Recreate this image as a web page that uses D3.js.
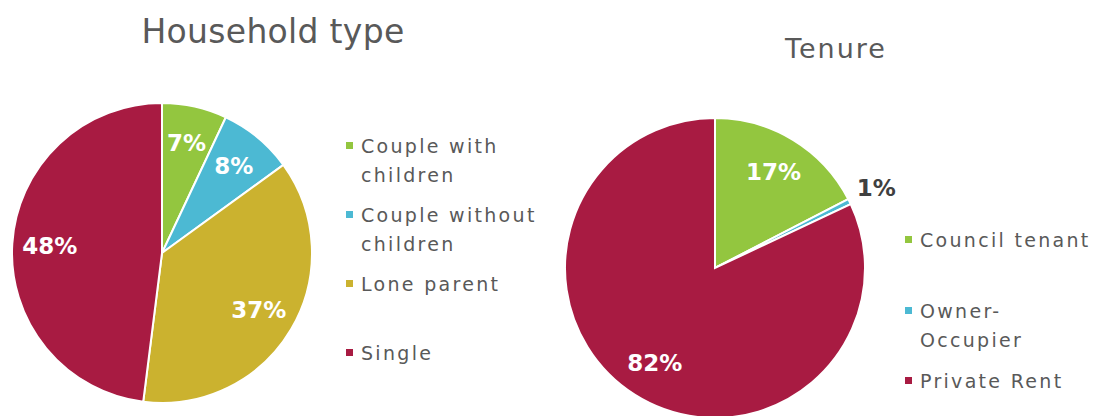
<!DOCTYPE html>
<html>
<head>
<meta charset="utf-8">
<script src="https://cdn.jsdelivr.net/npm/d3@7"></script>
<style>
  body { margin: 0; background: #fff; }
  svg text { font-family: "DejaVu Sans", sans-serif; }
</style>
</head>
<body>
<div id="chart"></div>
<script>
// data
const householdTypes = ["Couple with children", "Couple without children", "Lone parent", "Single"];
const householdShares = [7, 8, 37, 48];
const tenureTypes = ["Council tenant", "Owner-Occupier", "Private Rent"];
const tenureShares = [17.4, 0.6, 82.0];

const width = 1102, height = 416;
const palette = ["#93c63f", "#4cb9d3", "#cbb22f", "#a81b42"];
const tenureColors = [palette[0], palette[1], palette[3]];

const svg = d3.select("#chart")
  .append("svg")
  .attr("width", width)
  .attr("height", height);

const pie = d3.pie().sort(null).value(d => d.value);

function drawPie(opts) {
  const data = opts.labels.map((l, i) => ({ label: l, value: opts.values[i], color: opts.colors[i] }));
  const arcs = pie(data);
  const arc = d3.arc().innerRadius(0).outerRadius(opts.r);
  const labelArc = d3.arc().innerRadius(opts.r * 0.75).outerRadius(opts.r * 0.75);

  const g = svg.append("g").attr("transform", `translate(${opts.cx},${opts.cy})`);
  g.selectAll("path")
    .data(arcs)
    .join("path")
    .attr("d", arc)
    .attr("fill", d => d.data.color)
    .attr("stroke", "#fff")
    .attr("stroke-width", 2);

  g.selectAll("text")
    .data(arcs)
    .join("text")
    .attr("transform", d => {
      if (d.data.value < 2) {
        // tiny slice: label sits outside
        const a = (d.startAngle + d.endAngle) / 2;
        return `translate(${Math.sin(a) * opts.r * 1.2},${-Math.cos(a) * opts.r * 1.2})`;
      }
      return `translate(${labelArc.centroid(d)})`;
    })
    .attr("text-anchor", "middle")
    .attr("dominant-baseline", "central")
    .attr("font-family", "Liberation Sans, Arial, sans-serif")
    .attr("font-weight", "bold")
    .attr("font-size", 23)
    .attr("fill", d => d.data.value < 2 ? "#404040" : "#fff")
    .text(d => Math.round(d.data.value) + "%");

  svg.append("text")
    .attr("x", opts.titleX)
    .attr("y", opts.titleY)
    .attr("text-anchor", "middle")
    .attr("font-size", opts.titleSize)
    .attr("letter-spacing", opts.titleSpacing)
    .attr("fill", "#595959")
    .text(opts.title);

  const leg = svg.append("g");
  opts.legendLines.forEach((lines, i) => {
    leg.append("rect")
      .attr("x", opts.legendX)
      .attr("y", opts.legendY[i] - 11)
      .attr("width", 7)
      .attr("height", 7)
      .attr("fill", opts.colors[i]);
    lines.forEach((t, j) => {
      leg.append("text")
        .attr("x", opts.legendX + 15)
        .attr("y", opts.legendY[i] + j * 29)
        .attr("font-size", 19)
        .attr("letter-spacing", 2.3)
        .attr("fill", "#595959")
        .text(t);
    });
  });
}

drawPie({
  cx: 162, cy: 253, r: 150,
  labels: householdTypes, values: householdShares, colors: palette,
  title: "Household type", titleX: 273, titleY: 43, titleSize: 33, titleSpacing: 0.3,
  legendX: 346, legendY: [153, 222, 291, 360],
  legendLines: [["Couple with", "children"], ["Couple without", "children"], ["Lone parent"], ["Single"]]
});

drawPie({
  cx: 715, cy: 268, r: 150,
  labels: tenureTypes, values: tenureShares, colors: tenureColors,
  title: "Tenure", titleX: 836, titleY: 58, titleSize: 27, titleSpacing: 2,
  legendX: 905, legendY: [247, 318, 388],
  legendLines: [["Council tenant"], ["Owner-", "Occupier"], ["Private Rent"]]
});
</script>
</body>
</html>
